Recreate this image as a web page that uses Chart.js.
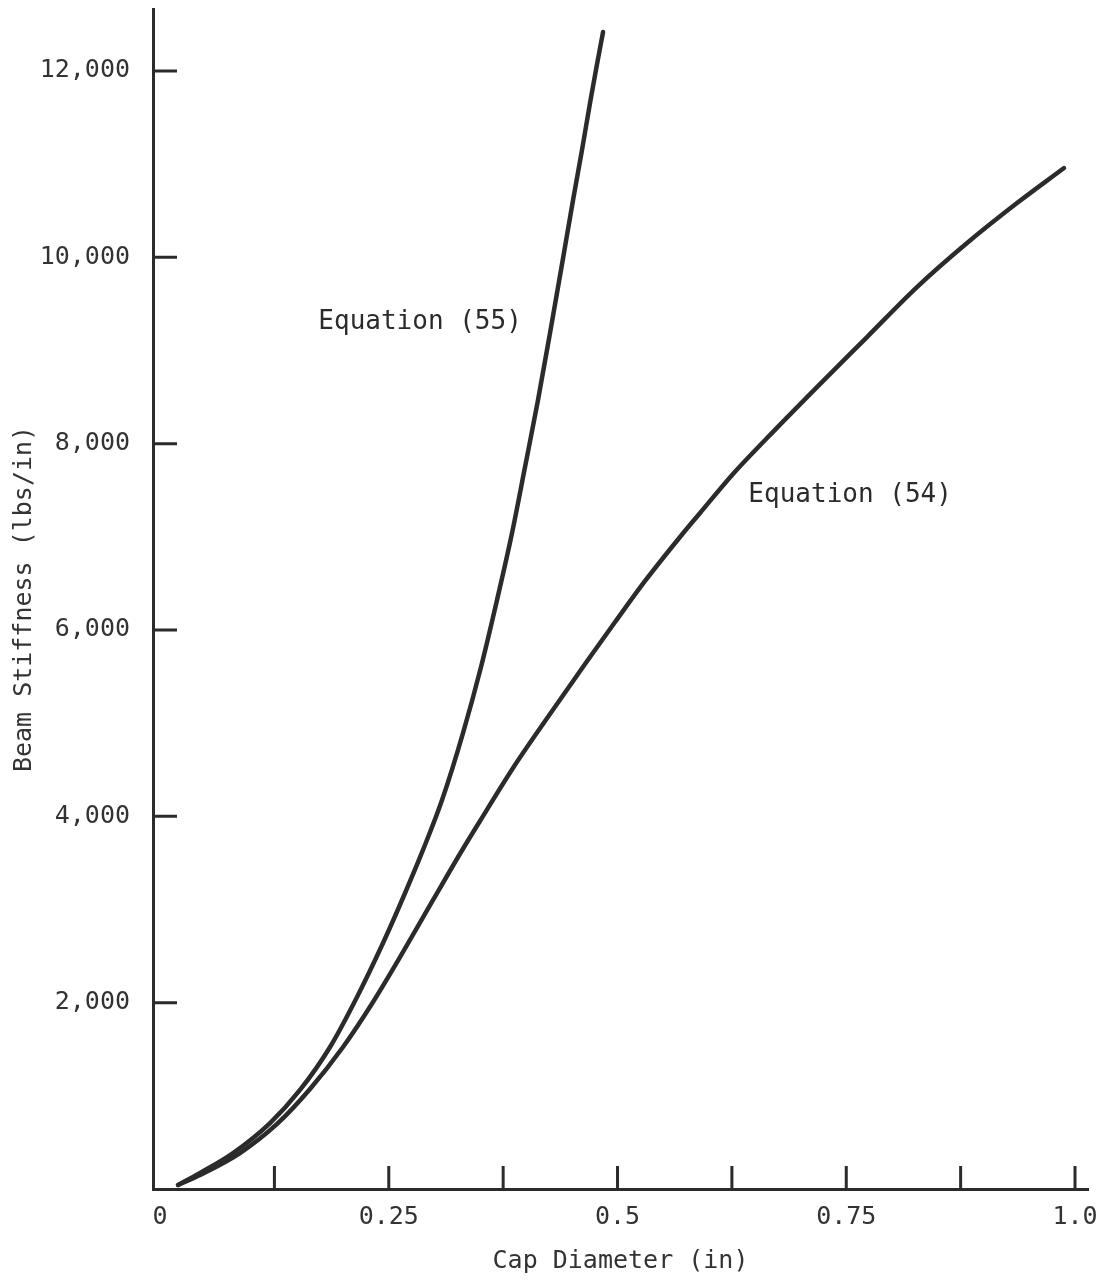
<!DOCTYPE html>
<html>
<head>
<meta charset="utf-8">
<script src="https://cdn.jsdelivr.net/npm/chart.js@4.4.1/dist/chart.umd.min.js"></script>
<style>
  html, body { margin: 0; padding: 0; background: #fff; }
  #wrap { width: 1109px; height: 1280px; }
</style>
</head>
<body>
<div id="wrap"><canvas id="chart" width="1109" height="1280"></canvas></div>
<script>
// values (cap diameter in, stiffness lbs/in)
const eq55X = [0.0197, 0.0437, 0.0798, 0.1202, 0.153, 0.1858, 0.2153, 0.2437, 0.2678, 0.2874, 0.3082, 0.3311, 0.3508, 0.3683, 0.3847, 0.3989, 0.4131, 0.4262, 0.4388, 0.4514, 0.4612, 0.4705, 0.477, 0.4842];
const eq55Y = [43, 172, 386, 708, 1063, 1524, 2061, 2640, 3177, 3639, 4175, 4894, 5603, 6322, 7041, 7749, 8468, 9187, 9896, 10615, 11152, 11688, 12042, 12418];

const eq54X = [0.0197, 0.0437, 0.0874, 0.1279, 0.1639, 0.2, 0.2328, 0.2656, 0.2984, 0.329, 0.3497, 0.3858, 0.4262, 0.4645, 0.4973, 0.5301, 0.5683, 0.5902, 0.6262, 0.6634, 0.718, 0.7727, 0.8273, 0.882, 0.9366, 0.988];
const eq54Y = [43, 150, 386, 698, 1073, 1524, 2007, 2544, 3102, 3617, 3950, 4519, 5098, 5635, 6085, 6526, 6998, 7256, 7675, 8060, 8607, 9144, 9680, 10153, 10582, 10958];

const xTickValues = [0, 0.125, 0.25, 0.375, 0.5, 0.625, 0.75, 0.875, 1.0];
const xTickLabels = ['0', '', '0.25', '', '0.5', '', '0.75', '', '1.0'];
const yTickValues = [2000, 4000, 6000, 8000, 10000, 12000];
const yTickLabels = ['2,000', '4,000', '6,000', '8,000', '10,000', '12,000'];

const curveLabels = [
  { text: 'Equation (55)', x: 0.173, y: 9300 },
  { text: 'Equation (54)', x: 0.643, y: 7450 }
];

const ink = '#2b2b2b';
const font = '"DejaVu Sans Mono", "Liberation Mono", monospace';

const toPoints = (xs, ys) => xs.map((v, i) => ({ x: v, y: ys[i] }));

// tick marks point into the plot, and the two curve labels
const innerTicks = {
  id: 'innerTicks',
  afterDraw(chart) {
    const { ctx, scales: { x, y } } = chart;
    ctx.save();
    ctx.strokeStyle = ink;
    ctx.lineWidth = 3;
    ctx.beginPath();
    xTickValues.forEach(v => {
      if (v === 0) return;
      const px = x.getPixelForValue(v);
      ctx.moveTo(px, y.bottom);
      ctx.lineTo(px, y.bottom - 23);
    });
    yTickValues.forEach(v => {
      const py = y.getPixelForValue(v);
      ctx.moveTo(x.left, py);
      ctx.lineTo(x.left + 24, py);
    });
    ctx.stroke();

    ctx.fillStyle = ink;
    ctx.font = '26px ' + font;
    ctx.textAlign = 'left';
    ctx.textBaseline = 'middle';
    curveLabels.forEach(l => {
      ctx.fillText(l.text, x.getPixelForValue(l.x), y.getPixelForValue(l.y));
    });
    ctx.restore();
  }
};

const ctx = document.getElementById('chart').getContext('2d');
new Chart(ctx, {
  type: 'line',
  data: {
    datasets: [
      { label: 'Equation (55)', data: toPoints(eq55X, eq55Y) },
      { label: 'Equation (54)', data: toPoints(eq54X, eq54Y) }
    ]
  },
  options: {
    responsive: false,
    animation: false,
    devicePixelRatio: 1,
    layout: { padding: { top: 9, right: 21, left: 0, bottom: 0 } },
    elements: {
      point: { radius: 0 },
      line: { borderColor: ink, borderWidth: 4.5, borderCapStyle: 'round', cubicInterpolationMode: 'monotone', fill: false }
    },
    plugins: {
      legend: { display: false },
      tooltip: { enabled: false }
    },
    scales: {
      x: {
        type: 'linear',
        min: -0.0077,
        max: 1.0142,
        grid: { display: false },
        border: { display: true, color: ink, width: 3 },
        afterBuildTicks: s => { s.ticks = xTickValues.map(v => ({ value: v })); },
        afterFit: s => { s.height = 91; s.paddingLeft = 0; s.paddingRight = 0; },
        ticks: {
          color: '#333',
          font: { family: font, size: 25 },
          padding: 5,
          maxRotation: 0,
          autoSkip: false,
          callback: (v, i) => xTickLabels[i]
        },
        title: {
          display: true,
          text: 'Cap Diameter (in)',
          color: '#333',
          font: { family: font, size: 25 },
          padding: { top: 0, bottom: 4 }
        }
      },
      y: {
        type: 'linear',
        min: 0,
        max: 12665,
        grid: { display: false },
        border: { display: true, color: ink, width: 3 },
        afterBuildTicks: s => { s.ticks = yTickValues.map(v => ({ value: v })); },
        afterFit: s => { s.width = 153; s.paddingTop = 0; s.paddingBottom = 0; },
        ticks: {
          color: '#333',
          font: { family: font, size: 25 },
          padding: 15,
          autoSkip: false,
          callback: (v, i) => yTickLabels[i]
        },
        title: {
          display: true,
          text: 'Beam Stiffness (lbs/in)',
          color: '#333',
          font: { family: font, size: 25 },
          padding: { top: 9, bottom: 0 }
        }
      }
    }
  },
  plugins: [innerTicks]
});
</script>
</body>
</html>
